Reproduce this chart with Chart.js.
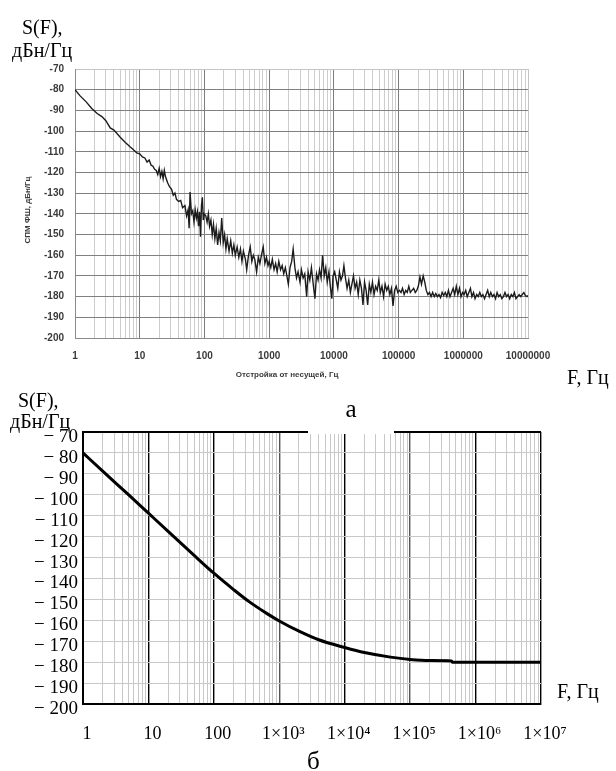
<!DOCTYPE html>
<html><head><meta charset="utf-8">
<script src="https://cdn.jsdelivr.net/npm/chart.js@4.4.1/dist/chart.umd.min.js"></script>
<style>
html,body{margin:0;padding:0;background:#fff;width:616px;height:771px;overflow:hidden;position:relative;}
canvas{position:absolute;left:0;}
.t{position:absolute;font-family:"Liberation Serif","Times New Roman",serif;color:#000;white-space:nowrap;line-height:1;}
.s{position:absolute;font-family:"Liberation Sans",Arial,sans-serif;font-weight:bold;color:#3a3a3a;white-space:nowrap;line-height:1;font-size:8px;}
</style></head><body>
<canvas id="ca" width="616" height="390" style="top:0px"></canvas>
<canvas id="cb" width="616" height="391" style="top:380px"></canvas>

<div class="t" style="left:22px;top:17px;font-size:20px;">S(F),</div>
<div class="t" style="left:12px;top:40px;font-size:20px;">дБн/Гц</div>
<div class="s" style="left:28px;top:210px;transform:translate(-50%,-50%) rotate(-90deg);">СПМ ФШ, дБн/Гц</div>
<div class="s" style="left:287px;top:375px;transform:translate(-50%,-50%);">Отстройка от несущей, Гц</div>
<div class="t" style="left:567px;top:367px;font-size:20px;">F, Гц</div>
<div class="t" style="left:308px;top:396px;width:86px;height:38px;background:#fff;text-align:center;font-size:25px;">а</div>

<div class="t" style="left:18px;top:390px;font-size:20px;">S(F),</div>
<div class="t" style="left:10px;top:411px;font-size:20px;">дБн/Гц</div>
<div class="t" style="left:557px;top:681px;font-size:20px;">F, Гц</div>
<div class="t" style="left:307px;top:748px;font-size:25px;">б</div>

<script>
// ---- Chart a: measured phase-noise spectrum ----
const freqA = [
  1,1.2,1.5,1.8,2.2,2.6,3,3.5,4,5,6,7,8,9,
  10,11,12,13,14,15,16,17,18,19,20,21,22,23,24,25,27,29,31,33,35,37,40,43,46,50,53,56,58,60,63,66,69,72,75,78,81,84,87,90,93,96,99,
  105,110,115,120,126,132,138,145,152,160,168,176,185,195,205,215,225,240,255,270,285,300,320,340,360,380,400,430,450,480,510,540,570,600,640,680,720,760,810,860,910,960,
  1000,1060,1120,1190,1260,1330,1410,1500,1590,1680,1780,1880,1980,2100,2230,2350,2500,2650,2800,3000,3150,3350,3550,3800,4000,4250,4500,4800,5100,5400,5700,6000,6350,6700,7100,7500,7900,8400,8800,9300,9700,
  10300,10900,11500,12200,12900,13600,14300,15100,16000,17000,18000,19000,20100,21300,22500,23800,25200,26700,28200,29800,31500,33300,35300,37300,39500,41800,44200,46800,49500,52300,55400,58600,62000,65600,69400,73400,77600,82100,86800,91900,97200,
  103000,109000,115000,122000,129000,136000,144000,152000,161000,171000,181000,191000,202000,214000,226000,240000,254000,268000,284000,300000,318000,336000,356000,376000,398000,421000,445000,471000,498000,527000,557000,589000,623000,659000,697000,737000,780000,825000,873000,923000,976000,
  1030000,1090000,1150000,1220000,1290000,1360000,1440000,1520000,1610000,1700000,1800000,1900000,2010000,2130000,2250000,2380000,2520000,2660000,2820000,2980000,3150000,3330000,3520000,3730000,3940000,4170000,4410000,4660000,4930000,5210000,5510000,5830000,6170000,6520000,6900000,7290000,7710000,8160000,8630000,9120000,9650000,10000000
];
const specA = [
  -80,-83,-86,-89,-91.5,-93,-95,-98.5,-99.5,-103,-105.5,-107.5,-109,-110.5,
  -111,-112.5,-113,-115,-114,-116.5,-117,-118.5,-119,-121,-118,-122,-119.5,-123,-119,-122,-125,-127,-128,-131,-130,-133,-134,-133.5,-137,-136,-141,-138,-147,-129.5,-140,-138.5,-144,-138,-142,-139,-146,-139,-151,-136,-132,-143,-140,
  -141,-144,-140,-146,-143,-150,-145,-152,-147,-155,-149,-153,-142,-154,-150,-157,-152,-158,-153,-159,-155,-160,-156,-161,-157,-163,-158,-162,-167,-160,-156,-163,-160,-162,-168,-161,-164,-160,-156,-164,-161,-165,
  -163,-166,-162,-167,-164,-168,-163,-167,-165,-169,-166,-170,-174,-166,-163,-157,-166,-171,-168,-173,-167,-171,-169,-180,-168,-172,-166,-174,-181,-169,-172,-167,-171,-160,-170,-166,-173,-168,-175,-181,-170,
  -168,-172,-176,-168,-172,-170,-165,-171,-176,-172,-178,-174,-170,-176,-173,-179,-172,-176,-184,-173,-177,-184,-174,-178,-173,-179,-175,-177,-172,-178,-175,-180,-174,-177,-175,-179,-176,-184.5,-177,-175,-178,
  -177,-178,-176,-179,-177,-178,-175,-178,-177,-176,-178,-177,-175,-170.5,-174,-170,-173,-177,-179,-178,-180,-178,-180,-178.5,-180,-179,-180.5,-178,-179.5,-178,-180,-177,-180,-178,-176,-179,-175,-179,-176,-180,-178,
  -179,-177,-180,-178,-176,-180,-178,-181,-179,-180,-178,-180,-179,-181,-179,-177,-180,-178,-180,-179,-181,-178,-180,-179,-181,-180,-178,-180,-179,-181,-179,-180,-178,-181,-180,-179,-180,-179,-178,-179.5,-180,-179.5
];
// ---- Chart b: calculated spectrum ----
const freqB = [1,2,5,10,20,50,100,200,350,650,1000,2000,4000,10000,20000,50000,100000,200000,430000,440000,1000000,10000000];
const specB = [-80,-88.7,-100.1,-108.8,-117.5,-129,-137.5,-145.3,-151.2,-156.8,-160.3,-165.2,-169.3,-173,-175.4,-177.6,-178.7,-179.2,-179.4,-180,-180,-180];

const yMin = -200, yMax = -70, yStep = 10;
const xTickLabelsA = ['1','10','100','1000','10000','100000','1000000','10000000'];
const xTickLabelsB = ['1','10','100','1×10³','1×10⁴','1×10⁵','1×10⁶','1×10⁷'];

function logTicks(scale){
  const t = [];
  for (let d = 0; d < 7; d++) for (let m = 1; m <= 9; m++) t.push({value: m * Math.pow(10, d)});
  t.push({value: 1e7});
  scale.ticks = t;
}
function isDecade(v){ const l = Math.log10(v); return Math.abs(l - Math.round(l)) < 1e-9; }

Chart.defaults.animation = false;

new Chart(document.getElementById('ca'), {
  type: 'line',
  data: { datasets: [{ data: freqA.map((f,i)=>({x:f,y:specA[i]})), borderColor:'#1c1c1c', borderWidth:1.4, pointRadius:0, tension:0, fill:false }] },
  options: {
    responsive:false, devicePixelRatio:1, animation:false,
    layout:{ padding:{ left:0, top:69, right:88, bottom:0 } },
    plugins:{ legend:{display:false}, tooltip:{enabled:false} },
    scales:{
      x:{ type:'logarithmic', min:1, max:1e7,
        afterBuildTicks: logTicks,
        afterFit: s => { s.height = 52; },
        grid:{ drawTicks:false, lineWidth:1,
          color: c => { const v=c.tick.value; if (v===1e7) return '#c4c4c4'; return isDecade(v) ? '#7c7c7c' : '#cdcdcd'; } },
        border:{ color:'#8a8a8a' },
        ticks:{ autoSkip:false, maxRotation:0, padding:12, color:'#3a3a3a',
          font:{ family:'"Liberation Sans", Arial, sans-serif', size:10, weight:'bold' },
          callback: v => isDecade(v) ? xTickLabelsA[Math.round(Math.log10(v))] : '' }
      },
      y:{ min:yMin, max:yMax,
        afterFit: s => { s.width = 75; },
        grid:{ drawTicks:false, color: c => c.tick.value===yMax ? '#c4c4c4' : '#808080' },
        border:{ color:'#8a8a8a' },
        ticks:{ stepSize:yStep, autoSkip:false, padding:11, color:'#3a3a3a',
          font:{ family:'"Liberation Sans", Arial, sans-serif', size:10, weight:'bold' } }
      }
    }
  }
});

new Chart(document.getElementById('cb'), {
  type: 'line',
  data: { datasets: [{ data: freqB.map((f,i)=>({x:f,y:specB[i]})), borderColor:'#000', borderWidth:3, pointRadius:0, cubicInterpolationMode:'monotone', fill:false }] },
  options: {
    responsive:false, devicePixelRatio:1, animation:false,
    layout:{ padding:{ left:0, top:52, right:75, bottom:0 } },
    plugins:{ legend:{display:false}, tooltip:{enabled:false} },
    scales:{
      x:{ type:'logarithmic', min:1, max:1e7,
        afterBuildTicks: logTicks,
        afterFit: s => { s.height = 67; },
        grid:{ drawTicks:false,
          lineWidth: c => isDecade(c.tick.value) ? 1.4 : 1,
          color: c => { const v=c.tick.value; if (!isDecade(v)) return '#c8c8c8'; return (v===1e3||v===1e5) ? '#555' : '#000'; } },
        border:{ color:'#000', width:2 },
        ticks:{ autoSkip:false, maxRotation:0, padding:19, labelOffset:4, color:'#000',
          font:{ family:'"Liberation Serif", "Times New Roman", serif', size:18 },
          callback: v => isDecade(v) ? xTickLabelsB[Math.round(Math.log10(v))] : '' }
      },
      y:{ min:yMin, max:yMax,
        afterFit: s => { s.width = 83; },
        grid:{ drawTicks:false, lineWidth: c => c.tick.value===yMax ? 2 : 1,
          color: c => c.tick.value===yMax ? '#000' : '#c8c8c8' },
        border:{ color:'#000', width:2 },
        ticks:{ stepSize:yStep, autoSkip:false, padding:5, labelOffset:5, color:'#000',
          font:{ family:'"Liberation Serif", "Times New Roman", serif', size:19 },
          callback: v => '\u2212 ' + Math.abs(v) }
      }
    }
  }
});
</script>
</body></html>
